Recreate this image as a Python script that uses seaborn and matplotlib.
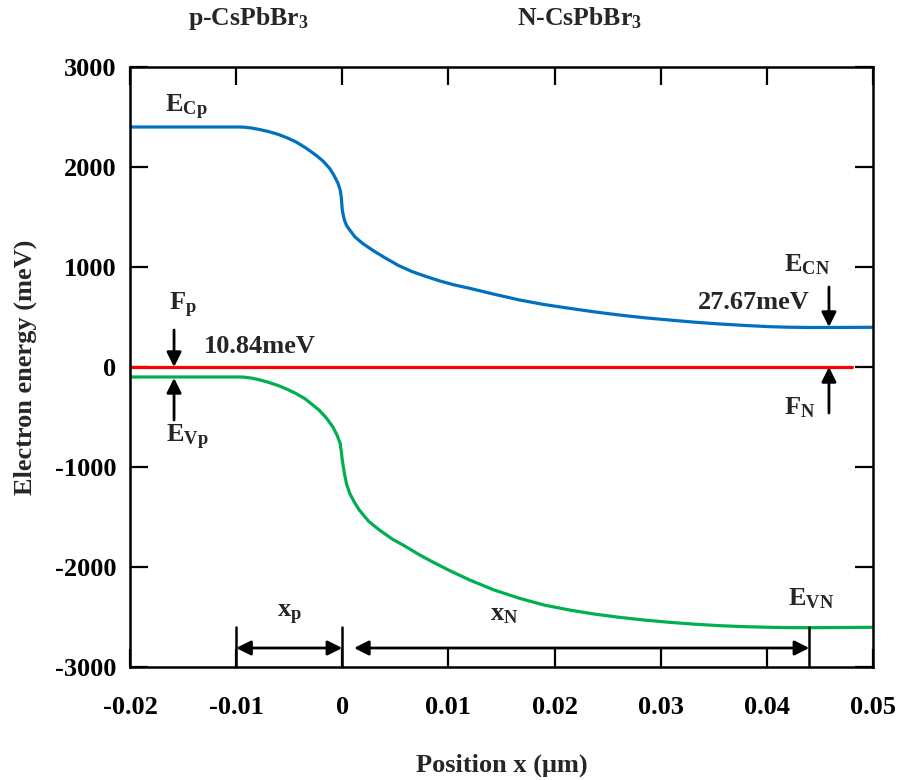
import matplotlib
matplotlib.use("Agg")
import matplotlib.pyplot as plt
import seaborn as sns
import pandas as pd

# ---- data ----
ec_x = [-0.02, -0.0097, -0.0092, -0.0085, -0.0078, -0.0069, -0.006, -0.0052, -0.0044,
        -0.0035, -0.0025, -0.0018, -0.0012, -0.0008, -0.0004, -0.0002, -0.0001, 0.0,
        0.0001, 0.0002, 0.0004, 0.0007, 0.0012, 0.0019, 0.0029, 0.0041, 0.0053, 0.0066,
        0.0079, 0.0092, 0.0105, 0.012, 0.0143, 0.0167, 0.019, 0.0214, 0.0237, 0.0261,
        0.0284, 0.0308, 0.0332, 0.0356, 0.038, 0.0403, 0.042, 0.044, 0.05]
ec_e = [2400, 2400, 2398, 2389, 2375, 2353, 2325, 2292, 2253,
        2195, 2120, 2058, 1987, 1920, 1837, 1770, 1703, 1570,
        1515, 1470, 1415, 1370, 1300, 1237, 1165, 1087, 1015, 953,
        905, 860, 822, 787, 728, 670, 625, 587, 552, 520,
        493, 470, 448, 430, 415, 403, 398, 395, 397]

ev_x = [-0.02, -0.0097, -0.0092, -0.0085, -0.0078, -0.0069, -0.006, -0.0052, -0.0044,
        -0.0035, -0.0022, -0.0015, -0.0009, -0.0005, -0.0002, -0.0001, 0.0,
        0.0001, 0.0002, 0.0004, 0.0007, 0.0011, 0.0016, 0.0025, 0.0035, 0.0047, 0.006,
        0.0071, 0.0082, 0.01, 0.012, 0.0143, 0.0167, 0.019, 0.0214, 0.0237, 0.0261,
        0.0284, 0.0308, 0.0332, 0.0356, 0.038, 0.0403, 0.042, 0.044, 0.05]
ev_e = [-100, -100, -102, -112, -128, -155, -187, -222, -263,
        -318, -430, -510, -597, -680, -763, -840, -930,
        -1000, -1063, -1170, -1263, -1345, -1430, -1545, -1630, -1720, -1797,
        -1868, -1932, -2030, -2130, -2230, -2313, -2380, -2430, -2470, -2503,
        -2530, -2553, -2572, -2587, -2597, -2603, -2606, -2607, -2603]

fermi_x = [-0.02, 0.048]
fermi_e = [0, 0]

x_ticks = [-0.02, -0.01, 0, 0.01, 0.02, 0.03, 0.04, 0.05]
x_tick_labels = ["-0.02", "-0.01", "0", "0.01", "0.02", "0.03", "0.04", "0.05"]
y_ticks = [-3000, -2000, -1000, 0, 1000, 2000, 3000]
y_tick_labels = ["-3000", "-2000", "-1000", "0", "1000", "2000", "3000"]

xp_span = [-0.01, 0.0]
xn_span = [0.0011, 0.044]
edge_x = [-0.01, 0.0, 0.044]

# ---- style ----
sns.set_theme(style="ticks")
plt.rcParams["font.family"] = ["Liberation Serif", "DejaVu Serif"]
plt.rcParams["font.weight"] = "bold"
plt.rcParams["mathtext.fontset"] = "custom"
plt.rcParams["mathtext.rm"] = "Liberation Serif:bold"
plt.rcParams["mathtext.it"] = "Liberation Serif:bold"
plt.rcParams["mathtext.bf"] = "Liberation Serif:bold"

fig = plt.figure(figsize=(8.97, 7.8), dpi=100)
ax = fig.add_axes([130/897, 1-667/780, (873-130)/897, (667-67)/780])

df = pd.concat([
    pd.DataFrame({"x": ec_x, "E": ec_e, "band": "Ec"}),
    pd.DataFrame({"x": ev_x, "E": ev_e, "band": "Ev"}),
    pd.DataFrame({"x": fermi_x, "E": fermi_e, "band": "F"}),
])
palette = {"Ec": "#0070C0", "Ev": "#00B050", "F": "#FF0000"}
sns.lineplot(data=df, x="x", y="E", hue="band", palette=palette, sort=False,
             estimator=None, lw=2.3, legend=False, ax=ax, hue_order=["F", "Ec", "Ev"])

ax.set_xlim(-0.02, 0.05)
ax.set_ylim(-3000, 3000)
ax.set_xticks(x_ticks)
ax.set_xticklabels(x_tick_labels)
ax.set_yticks(y_ticks)
ax.set_yticklabels(y_tick_labels)
ax.tick_params(axis="both", direction="in", length=13, width=1.6, top=True, right=True,
               labelsize=19, colors="black")
ax.tick_params(axis="x", pad=21)
ax.tick_params(axis="y", pad=10)
for lab in ax.get_xticklabels() + ax.get_yticklabels():
    lab.set_fontweight("bold")
for s in ax.spines.values():
    s.set_linewidth(1.8)
    s.set_color("black")

ax.set_xlabel("Position x (\u03bcm)", fontsize=19, fontweight="bold", labelpad=25)
ax.set_ylabel("Electron energy (meV)", fontsize=19, fontweight="bold", labelpad=13)

# region titles
fig.text(248/897, 1-18/780, r"p-CsPbBr$_{\mathregular{3}}$", ha="center", va="center", fontsize=18.5, fontweight="bold")
fig.text(580/897, 1-18/780, r"N-CsPbBr$_{\mathregular{3}}$", ha="center", va="center", fontsize=18.5, fontweight="bold")

fs = 19
# band labels
ax.text(-0.0147, 2600, r"E$_{\mathregular{Cp}}$", ha="center", va="center", fontsize=fs)
ax.text(-0.0150, 620, r"F$_{\mathregular{p}}$", ha="center", va="center", fontsize=fs)
ax.text(-0.0130, 200, "10.84meV", ha="left", va="center", fontsize=fs, fontweight="bold")
ax.text(-0.0146, -700, r"E$_{\mathregular{Vp}}$", ha="center", va="center", fontsize=fs)
ax.text(0.0438, 1020, r"E$_{\mathregular{CN}}$", ha="center", va="center", fontsize=fs)
ax.text(0.0440, 640, "27.67meV", ha="right", va="center", fontsize=fs, fontweight="bold")
ax.text(0.0431, -410, r"F$_{\mathregular{N}}$", ha="center", va="center", fontsize=fs)
ax.text(0.0442, -2320, r"E$_{\mathregular{VN}}$", ha="center", va="center", fontsize=fs)
ax.text(-0.0050, -2480, r"x$_{\mathregular{p}}$", ha="center", va="center", fontsize=fs)
ax.text(0.0153, -2480, r"x$_{\mathregular{N}}$", ha="center", va="center", fontsize=fs)

arrow = dict(arrowstyle="-|>", color="black", lw=2, mutation_scale=22, shrinkA=0, shrinkB=0)
ax.annotate("", xy=(-0.01585, 0), xytext=(-0.01585, 370), arrowprops=arrow)
ax.annotate("", xy=(-0.01585, -110), xytext=(-0.01585, -530), arrowprops=arrow)
ax.annotate("", xy=(0.04585, 400), xytext=(0.04585, 800), arrowprops=arrow)
ax.annotate("", xy=(0.04585, 0), xytext=(0.04585, -460), arrowprops=arrow)

darrow = dict(arrowstyle="<|-|>", color="black", lw=2, mutation_scale=22, shrinkA=0, shrinkB=0)
ax.annotate("", xy=(xp_span[0], -2810), xytext=(xp_span[1], -2810), arrowprops=darrow)
ax.annotate("", xy=(xn_span[0], -2810), xytext=(xn_span[1], -2810), arrowprops=darrow)
for xv in edge_x:
    ax.plot([xv, xv], [-2600, -3000], color="black", lw=1.8)

fig.savefig("out.png", dpi=100)
